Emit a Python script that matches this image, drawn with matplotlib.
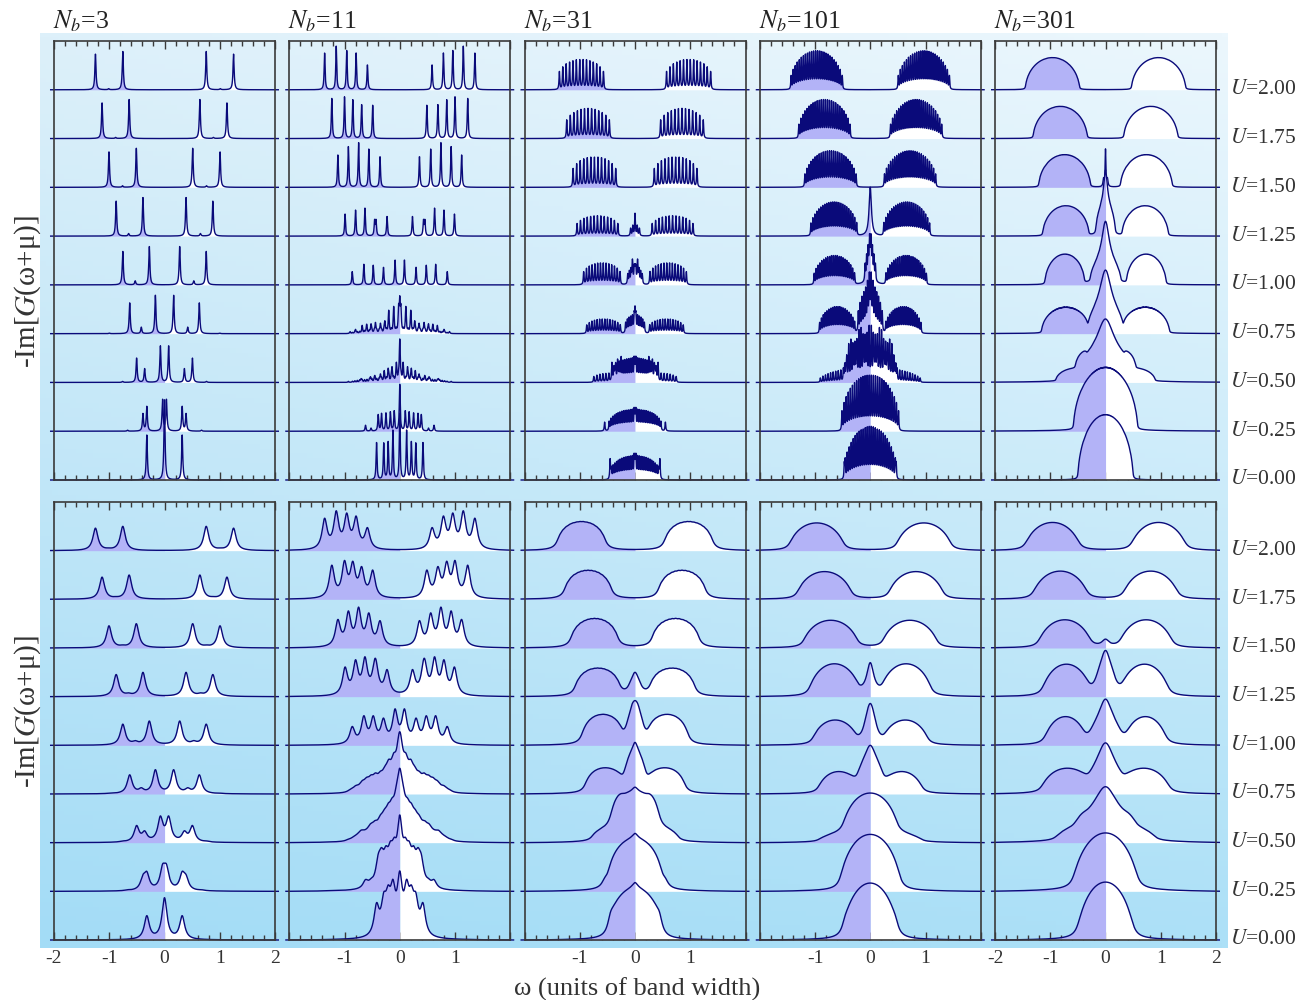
import numpy as np
import matplotlib
matplotlib.use('Agg')
import matplotlib.pyplot as plt
from matplotlib.ticker import MultipleLocator

plt.rcParams['font.family'] = ['Liberation Serif', 'DejaVu Serif']
plt.rcParams['mathtext.fontset'] = 'stix'

# ---- data ----
nb_list = [3, 11, 31, 101, 301]
u_values = [0.00, 0.25, 0.50, 0.75, 1.00, 1.25, 1.50, 1.75, 2.00]
u_labels = ['%.2f' % u for u in u_values]

# poles: (omega, height in top row [, own width]); omega > 0 is mirrored to -omega
# bands: (centre, half width, height, number of peaks); centre > 0 is mirrored
poles_nb3 = [
    [(0.0, 1.64), (0.32, 0.92)],
    [(0.035, 0.64), (0.32, 0.50), (0.39, 0.35), (0.67, 0.02)],
    [(0.075, 0.75), (0.36, 0.28), (0.505, 0.50), (0.76, 0.02)],
    [(0.165, 0.79), (0.42, 0.13), (0.63, 0.63), (1.0, 0.01)],
    [(0.275, 0.79), (0.53, 0.08), (0.755, 0.69)],
    [(0.39, 0.79), (0.65, 0.05), (0.875, 0.72)],
    [(0.51, 0.80), (0.76, 0.03), (1.005, 0.73)],
    [(0.64, 0.80), (0.885, 0.02), (1.13, 0.73)],
    [(0.755, 0.79), (1.01, 0.02), (1.25, 0.73)],
]
bands_nb3 = [[] for _ in range(9)]

poles_nb11 = [
    [(0.0, 1.35), (0.124, 1.0), (0.21, 0.76), (0.29, 0.74), (0.42, 0.76)],
    [(0.0, 0.95), (0.1, 0.40), (0.17, 0.38), (0.25, 0.36), (0.33, 0.35), (0.39, 0.33),
     (0.52, 0.06), (0.62, 0.12)],
    [(0.0, 0.84), (0.06, 0.32), (0.14, 0.27), (0.21, 0.24), (0.28, 0.17), (0.35, 0.14),
     (0.45, 0.1), (0.53, 0.09), (0.7, 0.06), (0.93, 0.02)],
    [(0.0, 0.58), (0.02, 0.40), (0.11, 0.47), (0.2, 0.40), (0.27, 0.22), (0.35, 0.18),
     (0.44, 0.20), (0.52, 0.17), (0.6, 0.15), (0.68, 0.12), (0.8, 0.07), (0.9, 0.04)],
    [(0.085, 0.51), (0.295, 0.36), (0.48, 0.40), (0.65, 0.42), (0.86, 0.27)],
    [(0.23, 0.40), (0.43, 0.30), (0.455, 0.30), (0.63, 0.57), (0.80, 0.53), (0.99, 0.45)],
    [(0.357, 0.63), (0.56, 0.78), (0.745, 0.92), (0.93, 0.83), (1.12, 0.66)],
    [(0.49, 0.68), (0.69, 0.69), (0.85, 0.79), (1.0, 0.85), (1.23, 0.82)],
    [(0.585, 0.51), (0.79, 0.75), (0.96, 0.80), (1.15, 0.89), (1.36, 0.75)],
]
bands_nb11 = [[], [], [(0.0, 0.9, 0.08, 40)], [(0.0, 0.9, 0.07, 40)], [], [], [], [], []]

poles_nb31 = [
    [(0.0, 0.25), (0.45, 0.40)],
    [(0.0, 0.20), (0.55, 0.18)],
    [(0.0, 0.20)],
    [(0.0, 0.40)],
    [(0.0, 0.25), (0.05, 0.25)],
    [(0.0, 0.45), (0.04, 0.2), (0.08, 0.15)],
    [], [], [],
]
bands_nb31 = [
    [(0.0, 0.46, 0.50, 28)],
    [(0.0, 0.50, 0.45, 30)],
    [(0.0, 0.45, 0.50, 26), (0.5, 0.30, 0.18, 10)],
    [(0.0, 0.20, 0.38, 12), (0.57, 0.35, 0.30, 14)],
    [(0.0, 0.16, 0.35, 10), (0.6, 0.38, 0.45, 14)],
    [(0.68, 0.43, 0.42, 13)],
    [(0.735, 0.45, 0.62, 13)],
    [(0.85, 0.45, 0.62, 13)],
    [(0.97, 0.46, 0.62, 14)],
]

poles_nb101 = [
    [(0.47, 0.3)],
    [],
    [],
    [(0.0, 0.4, 0.05)],
    [(0.0, 0.5, 0.04)],
    [(0.0, 1.0, 0.025)],
    [],
    [], [],
]
bands_nb101 = [
    [(0.0, 0.49, 1.1, 26)],
    [(0.0, 0.55, 1.15, 28)],
    [(0.0, 0.50, 0.95, 26), (0.0, 0.95, 0.30, 40)],
    [(0.0, 0.25, 0.9, 14), (0.6, 0.35, 0.55, 20)],
    [(0.0, 0.12, 0.6, 8), (0.65, 0.40, 0.60, 22)],
    [(0.66, 0.45, 0.70, 24)],
    [(0.72, 0.50, 0.75, 26)],
    [(0.83, 0.50, 0.80, 26)],
    [(0.97, 0.50, 0.80, 26)],
]

poles_nb301 = [
    [],
    [(0.0, 0.06, 0.5)],
    [(0.0, 0.75, 0.18)],
    [(0.0, 0.85, 0.12)],
    [(0.0, 0.85, 0.08)],
    [(0.0, 0.75, 0.04)],
    [(0.0, 0.75, 0.008), (0.035, 0.15, 0.012)],
    [], [],
]
bands_nb301 = [
    [(0.0, 0.50, 1.34, 150)],
    [(0.0, 0.58, 1.25, 160)],
    [(0.0, 0.55, 0.55, 150), (0.62, 0.28, 0.22, 80)],
    [(0.0, 0.32, 0.45, 100), (0.74, 0.42, 0.52, 100)],
    [(0.0, 0.28, 0.45, 80), (0.74, 0.36, 0.62, 100)],
    [(0.0, 0.18, 0.60, 50), (0.72, 0.42, 0.62, 120)],
    [(0.74, 0.47, 0.67, 130)],
    [(0.82, 0.49, 0.66, 140)],
    [(0.96, 0.49, 0.66, 140)],
]

all_poles = [poles_nb3, poles_nb11, poles_nb31, poles_nb101, poles_nb301]
all_bands = [bands_nb3, bands_nb11, bands_nb31, bands_nb101, bands_nb301]
eta_top = [0.012, 0.010, 0.008, 0.007, 0.008]
eta_bottom = [0.055, 0.055, 0.06, 0.06, 0.065]
band_shape = [0.5, 0.5, 0.35, 0.5, 0.5]

# peak heights of the broadened curves (lower row), U = 0.00 ... 2.00
hmax_bottom = [
    [0.87, 0.58, 0.55, 0.50, 0.50, 0.50, 0.50, 0.50, 0.50],
    [1.42, 1.57, 1.53, 1.28, 0.75, 0.82, 0.84, 0.80, 0.82],
    [1.18, 1.19, 1.14, 1.06, 0.92, 0.59, 0.61, 0.60, 0.60],
    [1.17, 1.17, 1.02, 1.00, 0.86, 0.70, 0.57, 0.57, 0.57],
    [1.19, 1.20, 1.15, 1.05, 0.95, 0.95, 0.58, 0.58, 0.58],
]

# ---- build the curves ----
dw = 0.002
w = np.arange(-2.06, 2.06 + dw / 2, dw)


def lorentz(x, h, eta):
    return h * eta ** 2 / (x ** 2 + eta ** 2)


def top_curve(poles, bands, eta, p):
    y = np.zeros_like(w)
    for pole in poles:
        width = pole[2] if len(pole) > 2 else eta
        for s in ([pole[0], -pole[0]] if pole[0] > 0 else [pole[0]]):
            y += lorentz(w - s, pole[1], width)
    for c, hw, h, n in bands:
        xs = np.linspace(-1, 1, n + 2)[1:-1]
        env = (1 - xs ** 2) ** p
        for s in ([c, -c] if c > 0 else [c]):
            b = np.zeros_like(w)
            for x0, e in zip(xs, env):
                b += lorentz(w - (s + hw * x0), e, eta)
            y += b * h / b.max()
    return y


wk = np.arange(-1.5, 1.5 + dw / 2, dw)


def bottom_curve(yt, eta_t, eta_b, hmax):
    kern = lorentz(wk, 1.0, eta_b - eta_t)
    yb = np.convolve(yt, kern, mode='same')
    return yb * hmax / yb.max()


# ---- figure ----
fig = plt.figure(figsize=(13.09, 10.0), dpi=100)

# gradient backdrop
bg = fig.add_axes([40 / 1309, 52 / 1000, 1188 / 1309, 915 / 1000])
tl, tr = np.array([221, 240, 250]), np.array([236, 247, 253])
bl, br = np.array([163, 220, 246]), np.array([172, 224, 247])
ty = np.linspace(0, 1, 200)[:, None, None]
sx = np.linspace(0, 1, 200)[None, :, None]
grad = (tl * (1 - sx) + tr * sx) * (1 - ty) + (bl * (1 - sx) + br * sx) * ty
bg.imshow(grad / 255.0, aspect='auto', extent=[0, 1, 0, 1])
bg.axis('off')

lav = '#b3b3f7'
navy = '#0a0a7a'
edge = '#3a3a3a'
col_left = [54 + 235.25 * i for i in range(5)]
rows = [(520, 439), (60, 438)]  # bottom, height in pixels

for ci in range(5):
    curves_top = [top_curve(all_poles[ci][k], all_bands[ci][k], eta_top[ci], band_shape[ci])
                  for k in range(9)]
    curves_bot = [bottom_curve(curves_top[k], eta_top[ci], eta_bottom[ci], hmax_bottom[ci][k])
                  for k in range(9)]
    for ri, curves in enumerate([curves_top, curves_bot]):
        b0, hh = rows[ri]
        ax = fig.add_axes([col_left[ci] / 1309, b0 / 1000, 221 / 1309, hh / 1000])
        ax.set_facecolor('none')
        z = 2
        for k in reversed(range(9)):
            y = k + curves[k]
            ax.fill_between(w, k, y, where=w <= 0, color=lav, lw=0, zorder=z, clip_on=False)
            ax.fill_between(w, k, y, where=w >= 0, color='white', lw=0, zorder=z, clip_on=False)
            ax.plot(w, y, color=navy, lw=1.0, zorder=z + 1, clip_on=False)
            z += 2
        ax.set_xlim(-2, 2)
        ax.set_ylim(0, 9)
        ax.set_yticks([])
        ax.xaxis.set_major_locator(MultipleLocator(1))
        ax.xaxis.set_minor_locator(MultipleLocator(0.2))
        ax.tick_params(axis='x', which='both', direction='in', top=True, bottom=True,
                       color=edge, width=1.0, labelsize=14, labelcolor='#333333', pad=7)
        ax.tick_params(axis='x', which='major', length=6)
        ax.tick_params(axis='x', which='minor', length=3.5)
        for sp in ax.spines.values():
            sp.set_color(edge)
            sp.set_linewidth(1.2)
            sp.set_zorder(50)
        if ri == 0:
            ax.tick_params(labelbottom=False)
        else:
            ax.set_xticks([-2, -1, 0, 1, 2])
            if ci in (0, 4):
                ax.set_xticklabels(['-2', '-1', '0', '1', '2'])
            else:
                ax.set_xticklabels(['', '-1', '0', '1', ''])
        if ci == 4:
            for k in range(9):
                ax.text(1.063, k, r'$U$=' + u_labels[k], transform=ax.get_yaxis_transform(),
                        ha='left', va='center', fontsize=15.5, color='#333333')
    fig.text((col_left[ci] - 1) / 1309, 1 - 28 / 1000, r'$N_b$=%d' % nb_list[ci],
             fontsize=18.5, ha='left', va='baseline', color='#222222')

for yc in (292, 712):
    fig.text(28 / 1309, 1 - yc / 1000, r'-Im[$G$(ω+μ)]', rotation=90, ha='center', va='center',
             fontsize=21, color='#333333')
fig.text(637 / 1309, 1 - 989 / 1000, 'ω (units of band width)', ha='center', va='center',
         fontsize=19, color='#333333')

fig.savefig('out.png', dpi=100)
